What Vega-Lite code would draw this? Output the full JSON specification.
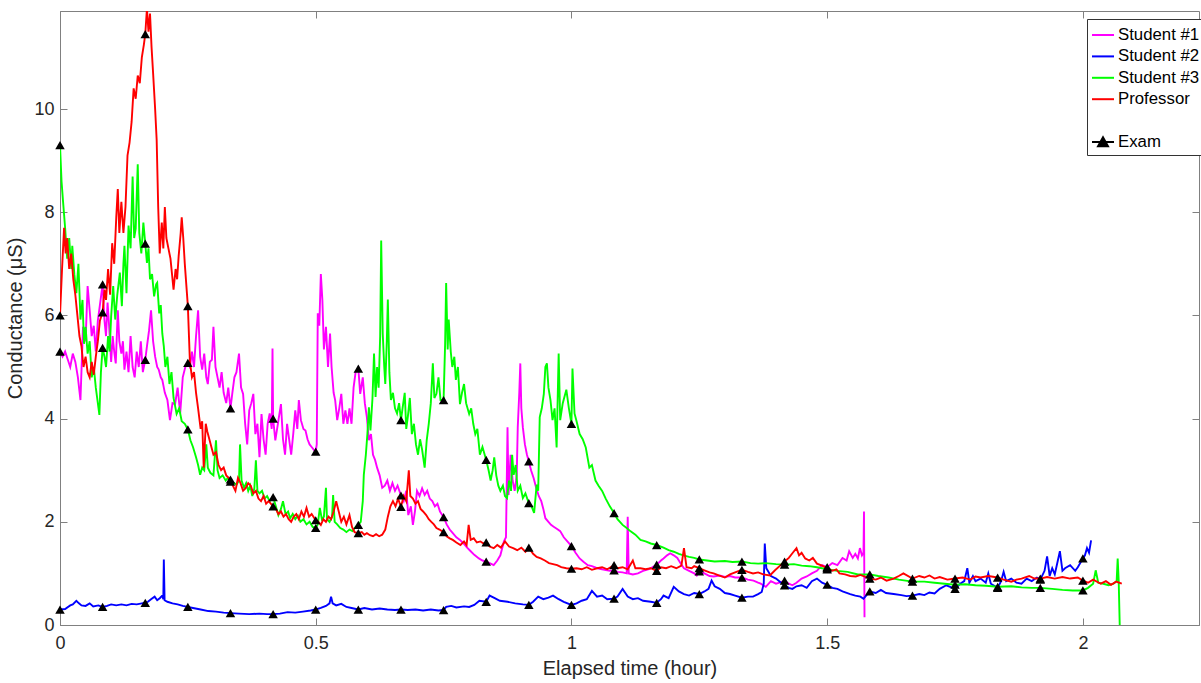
{
"$schema":"https://vega.github.io/schema/vega-lite/v6.json",
"width":1139,"height":614,
"autosize":{"type":"none"},
"padding":{"left":60,"top":11,"right":2,"bottom":58},
"background":"white",
"config":{"view":{"stroke":"#808080","strokeWidth":1},"font":"Liberation Sans","axis":{"grid":false,"labelFont":"Liberation Sans","titleFont":"Liberation Sans","labelColor":"#262626","titleColor":"#262626","domainColor":"#808080","tickColor":"#808080","titleFontWeight":"normal"}},
"data":{"values":[
{"s":"Student #1","t":0,"y":5.3,"e":1},{"s":"Student #1","t":0.005,"y":5.2},{"s":"Student #1","t":0.01,"y":5.3},{"s":"Student #1","t":0.015,"y":5.15},{"s":"Student #1","t":0.02,"y":5.0},{"s":"Student #1","t":0.025,"y":5.26},{"s":"Student #1","t":0.03,"y":5.1},{"s":"Student #1","t":0.035,"y":4.8},{"s":"Student #1","t":0.04,"y":4.36},{"s":"Student #1","t":0.045,"y":5.78},{"s":"Student #1","t":0.05,"y":5.5},{"s":"Student #1","t":0.054,"y":6.57},{"s":"Student #1","t":0.058,"y":6.1},{"s":"Student #1","t":0.062,"y":5.6},{"s":"Student #1","t":0.066,"y":5.8},{"s":"Student #1","t":0.07,"y":5.3},{"s":"Student #1","t":0.074,"y":5.9},{"s":"Student #1","t":0.078,"y":6.2},{"s":"Student #1","t":0.0833,"y":6.6,"e":1},{"s":"Student #1","t":0.087,"y":5.9},{"s":"Student #1","t":0.09,"y":5.6},{"s":"Student #1","t":0.093,"y":6.25},{"s":"Student #1","t":0.096,"y":5.8},{"s":"Student #1","t":0.1,"y":5.1},{"s":"Student #1","t":0.103,"y":5.6},{"s":"Student #1","t":0.106,"y":5.3},{"s":"Student #1","t":0.109,"y":5.07},{"s":"Student #1","t":0.113,"y":6.1},{"s":"Student #1","t":0.116,"y":5.5},{"s":"Student #1","t":0.12,"y":5.26},{"s":"Student #1","t":0.123,"y":5.5},{"s":"Student #1","t":0.126,"y":4.95},{"s":"Student #1","t":0.13,"y":5.3},{"s":"Student #1","t":0.134,"y":4.9},{"s":"Student #1","t":0.138,"y":5.6},{"s":"Student #1","t":0.142,"y":5.0},{"s":"Student #1","t":0.146,"y":4.8},{"s":"Student #1","t":0.15,"y":5.3},{"s":"Student #1","t":0.154,"y":5.0},{"s":"Student #1","t":0.158,"y":5.5},{"s":"Student #1","t":0.162,"y":4.9},{"s":"Student #1","t":0.1667,"y":5.14,"e":1},{"s":"Student #1","t":0.17,"y":5.4},{"s":"Student #1","t":0.174,"y":5.7},{"s":"Student #1","t":0.178,"y":6.1},{"s":"Student #1","t":0.182,"y":5.5},{"s":"Student #1","t":0.186,"y":5.2},{"s":"Student #1","t":0.19,"y":5.0},{"s":"Student #1","t":0.193,"y":4.95},{"s":"Student #1","t":0.197,"y":4.8},{"s":"Student #1","t":0.2,"y":4.75},{"s":"Student #1","t":0.205,"y":4.5},{"s":"Student #1","t":0.21,"y":4.36},{"s":"Student #1","t":0.215,"y":3.97},{"s":"Student #1","t":0.22,"y":4.3},{"s":"Student #1","t":0.225,"y":4.28},{"s":"Student #1","t":0.23,"y":4.6},{"s":"Student #1","t":0.235,"y":4.1},{"s":"Student #1","t":0.24,"y":4.8},{"s":"Student #1","t":0.245,"y":5.0},{"s":"Student #1","t":0.25,"y":5.08,"e":1},{"s":"Student #1","t":0.254,"y":5.0},{"s":"Student #1","t":0.258,"y":5.3},{"s":"Student #1","t":0.262,"y":5.0},{"s":"Student #1","t":0.266,"y":5.6},{"s":"Student #1","t":0.27,"y":6.1},{"s":"Student #1","t":0.274,"y":5.2},{"s":"Student #1","t":0.278,"y":4.95},{"s":"Student #1","t":0.282,"y":5.26},{"s":"Student #1","t":0.286,"y":4.8},{"s":"Student #1","t":0.289,"y":4.67},{"s":"Student #1","t":0.293,"y":5.1},{"s":"Student #1","t":0.297,"y":5.14},{"s":"Student #1","t":0.3,"y":5.78},{"s":"Student #1","t":0.304,"y":5.0},{"s":"Student #1","t":0.308,"y":4.8},{"s":"Student #1","t":0.312,"y":4.6},{"s":"Student #1","t":0.316,"y":4.9},{"s":"Student #1","t":0.32,"y":4.5},{"s":"Student #1","t":0.325,"y":4.3},{"s":"Student #1","t":0.329,"y":4.6},{"s":"Student #1","t":0.3333,"y":4.2,"e":1},{"s":"Student #1","t":0.337,"y":4.5},{"s":"Student #1","t":0.341,"y":4.8},{"s":"Student #1","t":0.345,"y":4.9},{"s":"Student #1","t":0.35,"y":5.26},{"s":"Student #1","t":0.354,"y":4.6},{"s":"Student #1","t":0.358,"y":4.48},{"s":"Student #1","t":0.362,"y":3.9},{"s":"Student #1","t":0.366,"y":3.5},{"s":"Student #1","t":0.37,"y":4.16},{"s":"Student #1","t":0.374,"y":4.3},{"s":"Student #1","t":0.378,"y":4.48},{"s":"Student #1","t":0.382,"y":3.7},{"s":"Student #1","t":0.386,"y":3.9},{"s":"Student #1","t":0.39,"y":3.25},{"s":"Student #1","t":0.394,"y":4.09},{"s":"Student #1","t":0.398,"y":3.6},{"s":"Student #1","t":0.402,"y":3.3},{"s":"Student #1","t":0.406,"y":3.9},{"s":"Student #1","t":0.41,"y":4.1},{"s":"Student #1","t":0.414,"y":3.8},{"s":"Student #1","t":0.4155,"y":5.36},{"s":"Student #1","t":0.4167,"y":4.0,"e":1},{"s":"Student #1","t":0.421,"y":3.58},{"s":"Student #1","t":0.426,"y":3.9},{"s":"Student #1","t":0.432,"y":4.28},{"s":"Student #1","t":0.436,"y":3.6},{"s":"Student #1","t":0.44,"y":3.3},{"s":"Student #1","t":0.444,"y":3.9},{"s":"Student #1","t":0.448,"y":3.6},{"s":"Student #1","t":0.452,"y":3.3},{"s":"Student #1","t":0.456,"y":3.7},{"s":"Student #1","t":0.46,"y":4.16},{"s":"Student #1","t":0.464,"y":3.8},{"s":"Student #1","t":0.467,"y":4.36},{"s":"Student #1","t":0.471,"y":3.97},{"s":"Student #1","t":0.476,"y":3.8},{"s":"Student #1","t":0.48,"y":3.77},{"s":"Student #1","t":0.484,"y":3.6},{"s":"Student #1","t":0.488,"y":3.5},{"s":"Student #1","t":0.492,"y":3.45},{"s":"Student #1","t":0.496,"y":3.4},{"s":"Student #1","t":0.5,"y":3.36,"e":1},{"s":"Student #1","t":0.502,"y":3.5},{"s":"Student #1","t":0.504,"y":6.04},{"s":"Student #1","t":0.507,"y":5.8},{"s":"Student #1","t":0.51,"y":6.8},{"s":"Student #1","t":0.513,"y":6.3},{"s":"Student #1","t":0.516,"y":5.34},{"s":"Student #1","t":0.52,"y":5.78},{"s":"Student #1","t":0.524,"y":5.0},{"s":"Student #1","t":0.528,"y":5.65},{"s":"Student #1","t":0.531,"y":5.0},{"s":"Student #1","t":0.535,"y":4.5},{"s":"Student #1","t":0.538,"y":4.36},{"s":"Student #1","t":0.542,"y":3.97},{"s":"Student #1","t":0.546,"y":4.2},{"s":"Student #1","t":0.55,"y":4.48},{"s":"Student #1","t":0.554,"y":3.9},{"s":"Student #1","t":0.558,"y":4.16},{"s":"Student #1","t":0.562,"y":3.9},{"s":"Student #1","t":0.566,"y":4.2},{"s":"Student #1","t":0.57,"y":3.9},{"s":"Student #1","t":0.574,"y":4.6},{"s":"Student #1","t":0.578,"y":4.9},{"s":"Student #1","t":0.5833,"y":4.97,"e":1},{"s":"Student #1","t":0.587,"y":4.48},{"s":"Student #1","t":0.592,"y":4.8},{"s":"Student #1","t":0.596,"y":4.3},{"s":"Student #1","t":0.6,"y":4.03},{"s":"Student #1","t":0.604,"y":3.58},{"s":"Student #1","t":0.608,"y":3.7},{"s":"Student #1","t":0.612,"y":3.3},{"s":"Student #1","t":0.616,"y":3.2},{"s":"Student #1","t":0.62,"y":3.05},{"s":"Student #1","t":0.625,"y":2.9},{"s":"Student #1","t":0.63,"y":2.66},{"s":"Student #1","t":0.635,"y":2.7},{"s":"Student #1","t":0.64,"y":2.8},{"s":"Student #1","t":0.645,"y":2.6},{"s":"Student #1","t":0.65,"y":2.75},{"s":"Student #1","t":0.655,"y":2.6},{"s":"Student #1","t":0.66,"y":2.7},{"s":"Student #1","t":0.6667,"y":2.51,"e":1},{"s":"Student #1","t":0.672,"y":2.4},{"s":"Student #1","t":0.677,"y":2.6},{"s":"Student #1","t":0.681,"y":2.13},{"s":"Student #1","t":0.686,"y":2.3},{"s":"Student #1","t":0.69,"y":1.94},{"s":"Student #1","t":0.694,"y":2.2},{"s":"Student #1","t":0.698,"y":2.6},{"s":"Student #1","t":0.703,"y":2.5},{"s":"Student #1","t":0.708,"y":2.65},{"s":"Student #1","t":0.713,"y":2.52},{"s":"Student #1","t":0.718,"y":2.6},{"s":"Student #1","t":0.723,"y":2.45},{"s":"Student #1","t":0.728,"y":2.4},{"s":"Student #1","t":0.733,"y":2.3},{"s":"Student #1","t":0.738,"y":2.35},{"s":"Student #1","t":0.743,"y":2.2},{"s":"Student #1","t":0.75,"y":2.09,"e":1},{"s":"Student #1","t":0.756,"y":1.95},{"s":"Student #1","t":0.762,"y":1.85},{"s":"Student #1","t":0.768,"y":1.78},{"s":"Student #1","t":0.775,"y":1.7},{"s":"Student #1","t":0.782,"y":1.65},{"s":"Student #1","t":0.789,"y":1.58},{"s":"Student #1","t":0.796,"y":1.5},{"s":"Student #1","t":0.803,"y":1.43},{"s":"Student #1","t":0.81,"y":1.36},{"s":"Student #1","t":0.819,"y":1.29},{"s":"Student #1","t":0.826,"y":1.25},{"s":"Student #1","t":0.8333,"y":1.23,"e":1},{"s":"Student #1","t":0.84,"y":1.2},{"s":"Student #1","t":0.848,"y":1.16},{"s":"Student #1","t":0.855,"y":1.25},{"s":"Student #1","t":0.861,"y":1.35},{"s":"Student #1","t":0.868,"y":1.62},{"s":"Student #1","t":0.872,"y":1.7},{"s":"Student #1","t":0.875,"y":3.83},{"s":"Student #1","t":0.877,"y":2.52},{"s":"Student #1","t":0.881,"y":3.3},{"s":"Student #1","t":0.885,"y":2.8},{"s":"Student #1","t":0.889,"y":2.6},{"s":"Student #1","t":0.893,"y":2.9},{"s":"Student #1","t":0.895,"y":3.83},{"s":"Student #1","t":0.898,"y":4.5},{"s":"Student #1","t":0.9,"y":5.07},{"s":"Student #1","t":0.902,"y":4.2},{"s":"Student #1","t":0.905,"y":3.83},{"s":"Student #1","t":0.909,"y":3.5},{"s":"Student #1","t":0.913,"y":3.3},{"s":"Student #1","t":0.9167,"y":3.17,"e":1},{"s":"Student #1","t":0.921,"y":3.0},{"s":"Student #1","t":0.926,"y":2.85},{"s":"Student #1","t":0.931,"y":2.66},{"s":"Student #1","t":0.936,"y":2.5},{"s":"Student #1","t":0.941,"y":2.4},{"s":"Student #1","t":0.945,"y":2.25},{"s":"Student #1","t":0.949,"y":2.07},{"s":"Student #1","t":0.955,"y":2.0},{"s":"Student #1","t":0.96,"y":1.94},{"s":"Student #1","t":0.966,"y":1.9},{"s":"Student #1","t":0.972,"y":1.86},{"s":"Student #1","t":0.978,"y":1.82},{"s":"Student #1","t":0.985,"y":1.7},{"s":"Student #1","t":0.992,"y":1.62},{"s":"Student #1","t":1,"y":1.53,"e":1},{"s":"Student #1","t":1.008,"y":1.4},{"s":"Student #1","t":1.016,"y":1.29},{"s":"Student #1","t":1.024,"y":1.22},{"s":"Student #1","t":1.032,"y":1.16},{"s":"Student #1","t":1.04,"y":1.14},{"s":"Student #1","t":1.048,"y":1.11},{"s":"Student #1","t":1.055,"y":1.09},{"s":"Student #1","t":1.065,"y":1.07},{"s":"Student #1","t":1.075,"y":1.05},{"s":"Student #1","t":1.0833,"y":1.06,"e":1},{"s":"Student #1","t":1.09,"y":1.03},{"s":"Student #1","t":1.1,"y":1.02},{"s":"Student #1","t":1.108,"y":1.0},{"s":"Student #1","t":1.11,"y":2.1},{"s":"Student #1","t":1.112,"y":1.0},{"s":"Student #1","t":1.12,"y":0.98},{"s":"Student #1","t":1.13,"y":1.0},{"s":"Student #1","t":1.14,"y":1.05},{"s":"Student #1","t":1.15,"y":1.08},{"s":"Student #1","t":1.155,"y":1.1},{"s":"Student #1","t":1.1667,"y":1.17,"e":1},{"s":"Student #1","t":1.175,"y":1.25},{"s":"Student #1","t":1.18,"y":1.29},{"s":"Student #1","t":1.187,"y":1.35},{"s":"Student #1","t":1.193,"y":1.39},{"s":"Student #1","t":1.2,"y":1.35},{"s":"Student #1","t":1.207,"y":1.3},{"s":"Student #1","t":1.213,"y":1.2},{"s":"Student #1","t":1.22,"y":1.1},{"s":"Student #1","t":1.23,"y":1.05},{"s":"Student #1","t":1.24,"y":1.0},{"s":"Student #1","t":1.245,"y":0.96},{"s":"Student #1","t":1.25,"y":1.04,"e":1},{"s":"Student #1","t":1.26,"y":1.0},{"s":"Student #1","t":1.27,"y":0.95},{"s":"Student #1","t":1.278,"y":0.94},{"s":"Student #1","t":1.29,"y":0.96},{"s":"Student #1","t":1.3,"y":0.93},{"s":"Student #1","t":1.31,"y":0.95},{"s":"Student #1","t":1.32,"y":0.92},{"s":"Student #1","t":1.3333,"y":0.92,"e":1},{"s":"Student #1","t":1.345,"y":0.88},{"s":"Student #1","t":1.356,"y":0.86},{"s":"Student #1","t":1.365,"y":0.82},{"s":"Student #1","t":1.37,"y":0.8},{"s":"Student #1","t":1.38,"y":0.74},{"s":"Student #1","t":1.39,"y":0.85},{"s":"Student #1","t":1.4,"y":0.8},{"s":"Student #1","t":1.41,"y":0.83},{"s":"Student #1","t":1.4167,"y":0.86,"e":1},{"s":"Student #1","t":1.425,"y":0.8},{"s":"Student #1","t":1.432,"y":0.77},{"s":"Student #1","t":1.44,"y":0.82},{"s":"Student #1","t":1.45,"y":0.9},{"s":"Student #1","t":1.46,"y":0.94},{"s":"Student #1","t":1.47,"y":1.0},{"s":"Student #1","t":1.48,"y":1.05},{"s":"Student #1","t":1.49,"y":1.16},{"s":"Student #1","t":1.5,"y":1.12,"e":1},{"s":"Student #1","t":1.51,"y":1.2},{"s":"Student #1","t":1.52,"y":1.16},{"s":"Student #1","t":1.53,"y":1.3},{"s":"Student #1","t":1.538,"y":1.25},{"s":"Student #1","t":1.543,"y":1.43},{"s":"Student #1","t":1.55,"y":1.3},{"s":"Student #1","t":1.555,"y":1.38},{"s":"Student #1","t":1.56,"y":1.29},{"s":"Student #1","t":1.564,"y":1.49},{"s":"Student #1","t":1.568,"y":1.35},{"s":"Student #1","t":1.571,"y":1.4},{"s":"Student #1","t":1.572,"y":2.2},{"s":"Student #1","t":1.573,"y":0.15},
{"s":"Student #2","t":0,"y":0.3,"e":1},{"s":"Student #2","t":0.01,"y":0.31},{"s":"Student #2","t":0.02,"y":0.38},{"s":"Student #2","t":0.025,"y":0.4},{"s":"Student #2","t":0.032,"y":0.47},{"s":"Student #2","t":0.037,"y":0.42},{"s":"Student #2","t":0.042,"y":0.38},{"s":"Student #2","t":0.05,"y":0.37},{"s":"Student #2","t":0.058,"y":0.42},{"s":"Student #2","t":0.065,"y":0.36},{"s":"Student #2","t":0.075,"y":0.38},{"s":"Student #2","t":0.0833,"y":0.35,"e":1},{"s":"Student #2","t":0.092,"y":0.37},{"s":"Student #2","t":0.1,"y":0.4},{"s":"Student #2","t":0.11,"y":0.38},{"s":"Student #2","t":0.12,"y":0.4},{"s":"Student #2","t":0.13,"y":0.38},{"s":"Student #2","t":0.14,"y":0.41},{"s":"Student #2","t":0.15,"y":0.4},{"s":"Student #2","t":0.16,"y":0.42},{"s":"Student #2","t":0.1667,"y":0.43,"e":1},{"s":"Student #2","t":0.172,"y":0.45},{"s":"Student #2","t":0.178,"y":0.5},{"s":"Student #2","t":0.185,"y":0.55},{"s":"Student #2","t":0.19,"y":0.48},{"s":"Student #2","t":0.195,"y":0.52},{"s":"Student #2","t":0.2,"y":0.57},{"s":"Student #2","t":0.202,"y":0.5},{"s":"Student #2","t":0.203,"y":1.27},{"s":"Student #2","t":0.2045,"y":0.48},{"s":"Student #2","t":0.21,"y":0.45},{"s":"Student #2","t":0.22,"y":0.42},{"s":"Student #2","t":0.23,"y":0.4},{"s":"Student #2","t":0.24,"y":0.37},{"s":"Student #2","t":0.25,"y":0.35,"e":1},{"s":"Student #2","t":0.26,"y":0.33},{"s":"Student #2","t":0.275,"y":0.3},{"s":"Student #2","t":0.29,"y":0.27},{"s":"Student #2","t":0.305,"y":0.26},{"s":"Student #2","t":0.32,"y":0.24},{"s":"Student #2","t":0.3333,"y":0.23,"e":1},{"s":"Student #2","t":0.35,"y":0.22},{"s":"Student #2","t":0.37,"y":0.21},{"s":"Student #2","t":0.39,"y":0.22},{"s":"Student #2","t":0.405,"y":0.21},{"s":"Student #2","t":0.4167,"y":0.21,"e":1},{"s":"Student #2","t":0.43,"y":0.22},{"s":"Student #2","t":0.445,"y":0.25},{"s":"Student #2","t":0.46,"y":0.24},{"s":"Student #2","t":0.475,"y":0.26},{"s":"Student #2","t":0.49,"y":0.28},{"s":"Student #2","t":0.5,"y":0.3,"e":1},{"s":"Student #2","t":0.51,"y":0.33},{"s":"Student #2","t":0.52,"y":0.37},{"s":"Student #2","t":0.527,"y":0.42},{"s":"Student #2","t":0.53,"y":0.55},{"s":"Student #2","t":0.533,"y":0.42},{"s":"Student #2","t":0.54,"y":0.38},{"s":"Student #2","t":0.55,"y":0.41},{"s":"Student #2","t":0.56,"y":0.35},{"s":"Student #2","t":0.57,"y":0.33},{"s":"Student #2","t":0.5833,"y":0.3,"e":1},{"s":"Student #2","t":0.595,"y":0.33},{"s":"Student #2","t":0.61,"y":0.3},{"s":"Student #2","t":0.625,"y":0.32},{"s":"Student #2","t":0.64,"y":0.3},{"s":"Student #2","t":0.655,"y":0.29},{"s":"Student #2","t":0.6667,"y":0.3,"e":1},{"s":"Student #2","t":0.68,"y":0.29},{"s":"Student #2","t":0.695,"y":0.3},{"s":"Student #2","t":0.71,"y":0.28},{"s":"Student #2","t":0.725,"y":0.3},{"s":"Student #2","t":0.74,"y":0.28},{"s":"Student #2","t":0.75,"y":0.29,"e":1},{"s":"Student #2","t":0.755,"y":0.35},{"s":"Student #2","t":0.765,"y":0.37},{"s":"Student #2","t":0.775,"y":0.34},{"s":"Student #2","t":0.79,"y":0.36},{"s":"Student #2","t":0.8,"y":0.35},{"s":"Student #2","t":0.81,"y":0.39},{"s":"Student #2","t":0.82,"y":0.47},{"s":"Student #2","t":0.8333,"y":0.45,"e":1},{"s":"Student #2","t":0.84,"y":0.57},{"s":"Student #2","t":0.85,"y":0.52},{"s":"Student #2","t":0.86,"y":0.47},{"s":"Student #2","t":0.875,"y":0.45},{"s":"Student #2","t":0.89,"y":0.42},{"s":"Student #2","t":0.905,"y":0.4},{"s":"Student #2","t":0.9167,"y":0.39,"e":1},{"s":"Student #2","t":0.925,"y":0.45},{"s":"Student #2","t":0.935,"y":0.55},{"s":"Student #2","t":0.945,"y":0.5},{"s":"Student #2","t":0.955,"y":0.53},{"s":"Student #2","t":0.964,"y":0.57},{"s":"Student #2","t":0.975,"y":0.5},{"s":"Student #2","t":0.985,"y":0.45},{"s":"Student #2","t":1,"y":0.39,"e":1},{"s":"Student #2","t":1.01,"y":0.42},{"s":"Student #2","t":1.02,"y":0.47},{"s":"Student #2","t":1.03,"y":0.5},{"s":"Student #2","t":1.04,"y":0.66},{"s":"Student #2","t":1.05,"y":0.55},{"s":"Student #2","t":1.06,"y":0.57},{"s":"Student #2","t":1.07,"y":0.5},{"s":"Student #2","t":1.0833,"y":0.51,"e":1},{"s":"Student #2","t":1.09,"y":0.55},{"s":"Student #2","t":1.1,"y":0.7},{"s":"Student #2","t":1.11,"y":0.55},{"s":"Student #2","t":1.12,"y":0.5},{"s":"Student #2","t":1.13,"y":0.52},{"s":"Student #2","t":1.14,"y":0.47},{"s":"Student #2","t":1.155,"y":0.45},{"s":"Student #2","t":1.1667,"y":0.43,"e":1},{"s":"Student #2","t":1.175,"y":0.5},{"s":"Student #2","t":1.18,"y":0.57},{"s":"Student #2","t":1.19,"y":0.52},{"s":"Student #2","t":1.2,"y":0.74},{"s":"Student #2","t":1.21,"y":0.65},{"s":"Student #2","t":1.22,"y":0.6},{"s":"Student #2","t":1.23,"y":0.57},{"s":"Student #2","t":1.24,"y":0.62},{"s":"Student #2","t":1.25,"y":0.6,"e":1},{"s":"Student #2","t":1.26,"y":0.65},{"s":"Student #2","t":1.268,"y":0.7},{"s":"Student #2","t":1.274,"y":0.86},{"s":"Student #2","t":1.28,"y":0.75},{"s":"Student #2","t":1.29,"y":0.7},{"s":"Student #2","t":1.3,"y":0.62},{"s":"Student #2","t":1.31,"y":0.6},{"s":"Student #2","t":1.32,"y":0.57},{"s":"Student #2","t":1.3333,"y":0.53,"e":1},{"s":"Student #2","t":1.345,"y":0.55},{"s":"Student #2","t":1.355,"y":0.55},{"s":"Student #2","t":1.365,"y":0.6},{"s":"Student #2","t":1.372,"y":0.64},{"s":"Student #2","t":1.376,"y":0.8},{"s":"Student #2","t":1.378,"y":1.58},{"s":"Student #2","t":1.381,"y":1.1},{"s":"Student #2","t":1.39,"y":0.95},{"s":"Student #2","t":1.4,"y":0.9},{"s":"Student #2","t":1.41,"y":0.82},{"s":"Student #2","t":1.4167,"y":0.77,"e":1},{"s":"Student #2","t":1.425,"y":0.72},{"s":"Student #2","t":1.432,"y":0.7},{"s":"Student #2","t":1.44,"y":0.75},{"s":"Student #2","t":1.45,"y":0.77},{"s":"Student #2","t":1.46,"y":0.72},{"s":"Student #2","t":1.47,"y":0.85},{"s":"Student #2","t":1.48,"y":0.9},{"s":"Student #2","t":1.49,"y":0.82},{"s":"Student #2","t":1.5,"y":0.78,"e":1},{"s":"Student #2","t":1.51,"y":0.72},{"s":"Student #2","t":1.52,"y":0.7},{"s":"Student #2","t":1.53,"y":0.65},{"s":"Student #2","t":1.545,"y":0.6},{"s":"Student #2","t":1.555,"y":0.57},{"s":"Student #2","t":1.565,"y":0.55},{"s":"Student #2","t":1.571,"y":0.51},{"s":"Student #2","t":1.5833,"y":0.65,"e":1},{"s":"Student #2","t":1.595,"y":0.62},{"s":"Student #2","t":1.605,"y":0.68},{"s":"Student #2","t":1.615,"y":0.62},{"s":"Student #2","t":1.63,"y":0.6},{"s":"Student #2","t":1.645,"y":0.58},{"s":"Student #2","t":1.655,"y":0.56},{"s":"Student #2","t":1.6667,"y":0.57,"e":1},{"s":"Student #2","t":1.68,"y":0.6},{"s":"Student #2","t":1.69,"y":0.58},{"s":"Student #2","t":1.7,"y":0.63},{"s":"Student #2","t":1.71,"y":0.61},{"s":"Student #2","t":1.72,"y":0.7},{"s":"Student #2","t":1.733,"y":0.77},{"s":"Student #2","t":1.75,"y":0.7,"e":1},{"s":"Student #2","t":1.76,"y":0.8},{"s":"Student #2","t":1.768,"y":0.85},{"s":"Student #2","t":1.774,"y":1.1},{"s":"Student #2","t":1.778,"y":0.82},{"s":"Student #2","t":1.785,"y":0.95},{"s":"Student #2","t":1.79,"y":0.85},{"s":"Student #2","t":1.8,"y":0.9},{"s":"Student #2","t":1.81,"y":0.82},{"s":"Student #2","t":1.815,"y":1.0},{"s":"Student #2","t":1.82,"y":0.8},{"s":"Student #2","t":1.8333,"y":0.72,"e":1},{"s":"Student #2","t":1.84,"y":0.85},{"s":"Student #2","t":1.845,"y":1.03},{"s":"Student #2","t":1.85,"y":0.85},{"s":"Student #2","t":1.86,"y":0.9},{"s":"Student #2","t":1.87,"y":0.82},{"s":"Student #2","t":1.88,"y":0.8},{"s":"Student #2","t":1.89,"y":0.9},{"s":"Student #2","t":1.9,"y":0.85},{"s":"Student #2","t":1.91,"y":0.92},{"s":"Student #2","t":1.9167,"y":0.88,"e":1},{"s":"Student #2","t":1.925,"y":1.05},{"s":"Student #2","t":1.93,"y":1.33},{"s":"Student #2","t":1.935,"y":0.95},{"s":"Student #2","t":1.94,"y":1.1},{"s":"Student #2","t":1.945,"y":0.98},{"s":"Student #2","t":1.955,"y":1.43},{"s":"Student #2","t":1.96,"y":1.05},{"s":"Student #2","t":1.965,"y":1.1},{"s":"Student #2","t":1.975,"y":1.16},{"s":"Student #2","t":1.985,"y":1.05},{"s":"Student #2","t":1.99,"y":1.12},{"s":"Student #2","t":2,"y":1.29,"e":1},{"s":"Student #2","t":2.004,"y":1.35},{"s":"Student #2","t":2.008,"y":1.49},{"s":"Student #2","t":2.012,"y":1.4},{"s":"Student #2","t":2.016,"y":1.64},
{"s":"Student #3","t":0,"y":9.3,"e":1},{"s":"Student #3","t":0.003,"y":8.6},{"s":"Student #3","t":0.006,"y":8.2},{"s":"Student #3","t":0.01,"y":7.7},{"s":"Student #3","t":0.014,"y":7.1},{"s":"Student #3","t":0.018,"y":7.5},{"s":"Student #3","t":0.022,"y":6.9},{"s":"Student #3","t":0.024,"y":7.35},{"s":"Student #3","t":0.028,"y":6.8},{"s":"Student #3","t":0.032,"y":6.43},{"s":"Student #3","t":0.036,"y":7.0},{"s":"Student #3","t":0.04,"y":5.92},{"s":"Student #3","t":0.044,"y":6.3},{"s":"Student #3","t":0.047,"y":5.45},{"s":"Student #3","t":0.05,"y":5.78},{"s":"Student #3","t":0.054,"y":5.26},{"s":"Student #3","t":0.058,"y":5.5},{"s":"Student #3","t":0.062,"y":4.8},{"s":"Student #3","t":0.066,"y":5.0},{"s":"Student #3","t":0.07,"y":4.6},{"s":"Student #3","t":0.074,"y":4.3},{"s":"Student #3","t":0.077,"y":4.07},{"s":"Student #3","t":0.08,"y":4.9},{"s":"Student #3","t":0.0833,"y":5.37,"e":1},{"s":"Student #3","t":0.087,"y":5.2},{"s":"Student #3","t":0.09,"y":5.0},{"s":"Student #3","t":0.094,"y":5.6},{"s":"Student #3","t":0.097,"y":5.3},{"s":"Student #3","t":0.1,"y":5.98},{"s":"Student #3","t":0.104,"y":6.57},{"s":"Student #3","t":0.108,"y":5.92},{"s":"Student #3","t":0.112,"y":6.4},{"s":"Student #3","t":0.117,"y":6.83},{"s":"Student #3","t":0.121,"y":6.18},{"s":"Student #3","t":0.124,"y":7.0},{"s":"Student #3","t":0.126,"y":7.35},{"s":"Student #3","t":0.13,"y":6.43},{"s":"Student #3","t":0.134,"y":7.74},{"s":"Student #3","t":0.138,"y":7.3},{"s":"Student #3","t":0.142,"y":8.69},{"s":"Student #3","t":0.145,"y":7.5},{"s":"Student #3","t":0.148,"y":7.68},{"s":"Student #3","t":0.152,"y":8.93},{"s":"Student #3","t":0.155,"y":7.6},{"s":"Student #3","t":0.159,"y":7.2},{"s":"Student #3","t":0.163,"y":7.8},{"s":"Student #3","t":0.1667,"y":7.39,"e":1},{"s":"Student #3","t":0.17,"y":7.02},{"s":"Student #3","t":0.173,"y":7.3},{"s":"Student #3","t":0.176,"y":6.7},{"s":"Student #3","t":0.18,"y":6.8},{"s":"Student #3","t":0.184,"y":6.37},{"s":"Student #3","t":0.188,"y":6.6},{"s":"Student #3","t":0.19,"y":6.63},{"s":"Student #3","t":0.194,"y":6.04},{"s":"Student #3","t":0.197,"y":6.2},{"s":"Student #3","t":0.2,"y":5.65},{"s":"Student #3","t":0.203,"y":5.4},{"s":"Student #3","t":0.206,"y":5.0},{"s":"Student #3","t":0.21,"y":5.2},{"s":"Student #3","t":0.214,"y":4.67},{"s":"Student #3","t":0.218,"y":4.9},{"s":"Student #3","t":0.222,"y":4.4},{"s":"Student #3","t":0.228,"y":4.09},{"s":"Student #3","t":0.233,"y":4.2},{"s":"Student #3","t":0.238,"y":3.95},{"s":"Student #3","t":0.244,"y":3.9},{"s":"Student #3","t":0.25,"y":3.79,"e":1},{"s":"Student #3","t":0.255,"y":3.58},{"s":"Student #3","t":0.26,"y":3.45},{"s":"Student #3","t":0.266,"y":3.25},{"s":"Student #3","t":0.27,"y":3.1},{"s":"Student #3","t":0.274,"y":2.91},{"s":"Student #3","t":0.278,"y":3.05},{"s":"Student #3","t":0.282,"y":3.0},{"s":"Student #3","t":0.286,"y":3.5},{"s":"Student #3","t":0.289,"y":3.05},{"s":"Student #3","t":0.294,"y":2.95},{"s":"Student #3","t":0.3,"y":2.9},{"s":"Student #3","t":0.305,"y":3.58},{"s":"Student #3","t":0.308,"y":3.0},{"s":"Student #3","t":0.312,"y":2.85},{"s":"Student #3","t":0.318,"y":2.9},{"s":"Student #3","t":0.324,"y":2.8},{"s":"Student #3","t":0.328,"y":2.85},{"s":"Student #3","t":0.3333,"y":2.78,"e":1},{"s":"Student #3","t":0.34,"y":2.75},{"s":"Student #3","t":0.345,"y":2.72},{"s":"Student #3","t":0.35,"y":2.8},{"s":"Student #3","t":0.352,"y":3.5},{"s":"Student #3","t":0.355,"y":2.8},{"s":"Student #3","t":0.36,"y":2.66},{"s":"Student #3","t":0.364,"y":2.75},{"s":"Student #3","t":0.368,"y":2.6},{"s":"Student #3","t":0.372,"y":2.7},{"s":"Student #3","t":0.376,"y":2.5},{"s":"Student #3","t":0.38,"y":2.65},{"s":"Student #3","t":0.383,"y":3.19},{"s":"Student #3","t":0.386,"y":2.6},{"s":"Student #3","t":0.39,"y":2.55},{"s":"Student #3","t":0.395,"y":2.6},{"s":"Student #3","t":0.4,"y":2.45},{"s":"Student #3","t":0.405,"y":2.5},{"s":"Student #3","t":0.41,"y":2.4},{"s":"Student #3","t":0.4167,"y":2.48,"e":1},{"s":"Student #3","t":0.422,"y":2.3},{"s":"Student #3","t":0.427,"y":2.13},{"s":"Student #3","t":0.432,"y":2.25},{"s":"Student #3","t":0.436,"y":2.4},{"s":"Student #3","t":0.441,"y":2.15},{"s":"Student #3","t":0.446,"y":2.2},{"s":"Student #3","t":0.45,"y":2.07},{"s":"Student #3","t":0.455,"y":2.15},{"s":"Student #3","t":0.46,"y":2.05},{"s":"Student #3","t":0.465,"y":2.12},{"s":"Student #3","t":0.47,"y":2.0},{"s":"Student #3","t":0.476,"y":2.05},{"s":"Student #3","t":0.482,"y":1.95},{"s":"Student #3","t":0.488,"y":2.0},{"s":"Student #3","t":0.494,"y":1.9},{"s":"Student #3","t":0.5,"y":1.88,"e":1},{"s":"Student #3","t":0.504,"y":1.95},{"s":"Student #3","t":0.508,"y":2.27},{"s":"Student #3","t":0.512,"y":2.05},{"s":"Student #3","t":0.516,"y":2.1},{"s":"Student #3","t":0.52,"y":2.66},{"s":"Student #3","t":0.522,"y":2.05},{"s":"Student #3","t":0.527,"y":2.0},{"s":"Student #3","t":0.532,"y":2.1},{"s":"Student #3","t":0.534,"y":2.52},{"s":"Student #3","t":0.537,"y":2.0},{"s":"Student #3","t":0.542,"y":1.95},{"s":"Student #3","t":0.548,"y":1.88},{"s":"Student #3","t":0.554,"y":1.85},{"s":"Student #3","t":0.56,"y":1.8},{"s":"Student #3","t":0.566,"y":1.85},{"s":"Student #3","t":0.572,"y":1.82},{"s":"Student #3","t":0.578,"y":1.9},{"s":"Student #3","t":0.5833,"y":1.94,"e":1},{"s":"Student #3","t":0.588,"y":2.0},{"s":"Student #3","t":0.592,"y":2.4},{"s":"Student #3","t":0.594,"y":2.91},{"s":"Student #3","t":0.598,"y":3.3},{"s":"Student #3","t":0.601,"y":3.7},{"s":"Student #3","t":0.604,"y":4.22},{"s":"Student #3","t":0.607,"y":3.77},{"s":"Student #3","t":0.611,"y":4.4},{"s":"Student #3","t":0.614,"y":5.26},{"s":"Student #3","t":0.617,"y":4.42},{"s":"Student #3","t":0.62,"y":5.0},{"s":"Student #3","t":0.623,"y":4.6},{"s":"Student #3","t":0.626,"y":5.6},{"s":"Student #3","t":0.628,"y":7.45},{"s":"Student #3","t":0.631,"y":5.65},{"s":"Student #3","t":0.634,"y":5.0},{"s":"Student #3","t":0.636,"y":4.67},{"s":"Student #3","t":0.639,"y":5.5},{"s":"Student #3","t":0.641,"y":6.31},{"s":"Student #3","t":0.644,"y":4.9},{"s":"Student #3","t":0.647,"y":4.36},{"s":"Student #3","t":0.651,"y":4.5},{"s":"Student #3","t":0.655,"y":4.2},{"s":"Student #3","t":0.659,"y":4.1},{"s":"Student #3","t":0.663,"y":4.3},{"s":"Student #3","t":0.6667,"y":3.97,"e":1},{"s":"Student #3","t":0.67,"y":4.22},{"s":"Student #3","t":0.674,"y":4.5},{"s":"Student #3","t":0.677,"y":3.8},{"s":"Student #3","t":0.68,"y":4.03},{"s":"Student #3","t":0.684,"y":4.4},{"s":"Student #3","t":0.688,"y":3.7},{"s":"Student #3","t":0.692,"y":3.9},{"s":"Student #3","t":0.696,"y":3.5},{"s":"Student #3","t":0.7,"y":3.3},{"s":"Student #3","t":0.704,"y":3.6},{"s":"Student #3","t":0.708,"y":3.4},{"s":"Student #3","t":0.713,"y":3.05},{"s":"Student #3","t":0.717,"y":3.58},{"s":"Student #3","t":0.721,"y":3.9},{"s":"Student #3","t":0.725,"y":4.3},{"s":"Student #3","t":0.729,"y":5.07},{"s":"Student #3","t":0.732,"y":4.4},{"s":"Student #3","t":0.736,"y":4.48},{"s":"Student #3","t":0.74,"y":4.8},{"s":"Student #3","t":0.744,"y":4.36},{"s":"Student #3","t":0.75,"y":4.36,"e":1},{"s":"Student #3","t":0.753,"y":5.45},{"s":"Student #3","t":0.755,"y":6.63},{"s":"Student #3","t":0.758,"y":5.34},{"s":"Student #3","t":0.76,"y":5.92},{"s":"Student #3","t":0.764,"y":5.3},{"s":"Student #3","t":0.767,"y":5.0},{"s":"Student #3","t":0.771,"y":5.2},{"s":"Student #3","t":0.774,"y":4.75},{"s":"Student #3","t":0.778,"y":5.0},{"s":"Student #3","t":0.782,"y":4.28},{"s":"Student #3","t":0.786,"y":4.5},{"s":"Student #3","t":0.79,"y":4.67},{"s":"Student #3","t":0.794,"y":4.3},{"s":"Student #3","t":0.8,"y":4.09},{"s":"Student #3","t":0.804,"y":4.2},{"s":"Student #3","t":0.808,"y":3.9},{"s":"Student #3","t":0.812,"y":3.7},{"s":"Student #3","t":0.816,"y":3.8},{"s":"Student #3","t":0.821,"y":3.3},{"s":"Student #3","t":0.826,"y":3.45},{"s":"Student #3","t":0.8333,"y":3.2,"e":1},{"s":"Student #3","t":0.838,"y":3.0},{"s":"Student #3","t":0.842,"y":2.8},{"s":"Student #3","t":0.846,"y":3.0},{"s":"Student #3","t":0.849,"y":3.25},{"s":"Student #3","t":0.853,"y":2.9},{"s":"Student #3","t":0.857,"y":2.7},{"s":"Student #3","t":0.861,"y":2.6},{"s":"Student #3","t":0.866,"y":2.7},{"s":"Student #3","t":0.87,"y":2.5},{"s":"Student #3","t":0.874,"y":2.46},{"s":"Student #3","t":0.878,"y":2.8},{"s":"Student #3","t":0.882,"y":2.6},{"s":"Student #3","t":0.884,"y":3.3},{"s":"Student #3","t":0.887,"y":2.91},{"s":"Student #3","t":0.891,"y":3.1},{"s":"Student #3","t":0.895,"y":2.6},{"s":"Student #3","t":0.9,"y":2.7},{"s":"Student #3","t":0.905,"y":2.46},{"s":"Student #3","t":0.91,"y":2.55},{"s":"Student #3","t":0.9167,"y":2.36,"e":1},{"s":"Student #3","t":0.922,"y":2.3},{"s":"Student #3","t":0.927,"y":2.17},{"s":"Student #3","t":0.932,"y":2.72},{"s":"Student #3","t":0.935,"y":2.6},{"s":"Student #3","t":0.938,"y":4.03},{"s":"Student #3","t":0.942,"y":4.2},{"s":"Student #3","t":0.946,"y":4.48},{"s":"Student #3","t":0.949,"y":5.0},{"s":"Student #3","t":0.952,"y":5.07},{"s":"Student #3","t":0.955,"y":4.6},{"s":"Student #3","t":0.959,"y":4.36},{"s":"Student #3","t":0.963,"y":3.97},{"s":"Student #3","t":0.967,"y":4.2},{"s":"Student #3","t":0.971,"y":3.44},{"s":"Student #3","t":0.975,"y":5.26},{"s":"Student #3","t":0.978,"y":3.97},{"s":"Student #3","t":0.983,"y":4.3},{"s":"Student #3","t":0.99,"y":4.56},{"s":"Student #3","t":0.995,"y":4.2},{"s":"Student #3","t":1,"y":3.9,"e":1},{"s":"Student #3","t":1.002,"y":4.97},{"s":"Student #3","t":1.006,"y":4.1},{"s":"Student #3","t":1.01,"y":3.95},{"s":"Student #3","t":1.016,"y":3.7},{"s":"Student #3","t":1.022,"y":3.6},{"s":"Student #3","t":1.028,"y":3.44},{"s":"Student #3","t":1.035,"y":3.05},{"s":"Student #3","t":1.04,"y":3.1},{"s":"Student #3","t":1.047,"y":2.8},{"s":"Student #3","t":1.053,"y":2.7},{"s":"Student #3","t":1.06,"y":2.6},{"s":"Student #3","t":1.067,"y":2.45},{"s":"Student #3","t":1.075,"y":2.3},{"s":"Student #3","t":1.0833,"y":2.17,"e":1},{"s":"Student #3","t":1.09,"y":2.05},{"s":"Student #3","t":1.1,"y":1.94},{"s":"Student #3","t":1.108,"y":1.88},{"s":"Student #3","t":1.115,"y":1.82},{"s":"Student #3","t":1.125,"y":1.75},{"s":"Student #3","t":1.135,"y":1.65},{"s":"Student #3","t":1.145,"y":1.62},{"s":"Student #3","t":1.155,"y":1.58},{"s":"Student #3","t":1.1667,"y":1.55,"e":1},{"s":"Student #3","t":1.18,"y":1.5},{"s":"Student #3","t":1.19,"y":1.45},{"s":"Student #3","t":1.2,"y":1.42},{"s":"Student #3","t":1.21,"y":1.38},{"s":"Student #3","t":1.219,"y":1.35},{"s":"Student #3","t":1.23,"y":1.32},{"s":"Student #3","t":1.24,"y":1.3},{"s":"Student #3","t":1.25,"y":1.27,"e":1},{"s":"Student #3","t":1.265,"y":1.25},{"s":"Student #3","t":1.28,"y":1.23},{"s":"Student #3","t":1.3,"y":1.24},{"s":"Student #3","t":1.315,"y":1.22},{"s":"Student #3","t":1.3333,"y":1.23,"e":1},{"s":"Student #3","t":1.35,"y":1.2},{"s":"Student #3","t":1.365,"y":1.19},{"s":"Student #3","t":1.38,"y":1.2},{"s":"Student #3","t":1.4,"y":1.18},{"s":"Student #3","t":1.4167,"y":1.17,"e":1},{"s":"Student #3","t":1.435,"y":1.18},{"s":"Student #3","t":1.45,"y":1.15},{"s":"Student #3","t":1.465,"y":1.14},{"s":"Student #3","t":1.48,"y":1.12},{"s":"Student #3","t":1.5,"y":1.08,"e":1},{"s":"Student #3","t":1.52,"y":1.05},{"s":"Student #3","t":1.54,"y":1.03},{"s":"Student #3","t":1.56,"y":0.98},{"s":"Student #3","t":1.5833,"y":0.98,"e":1},{"s":"Student #3","t":1.6,"y":0.95},{"s":"Student #3","t":1.62,"y":0.92},{"s":"Student #3","t":1.64,"y":0.88},{"s":"Student #3","t":1.6667,"y":0.84,"e":1},{"s":"Student #3","t":1.69,"y":0.84},{"s":"Student #3","t":1.71,"y":0.82},{"s":"Student #3","t":1.73,"y":0.8},{"s":"Student #3","t":1.75,"y":0.78,"e":1},{"s":"Student #3","t":1.77,"y":0.79},{"s":"Student #3","t":1.79,"y":0.77},{"s":"Student #3","t":1.81,"y":0.76},{"s":"Student #3","t":1.8333,"y":0.74,"e":1},{"s":"Student #3","t":1.86,"y":0.75},{"s":"Student #3","t":1.88,"y":0.73},{"s":"Student #3","t":1.9,"y":0.72},{"s":"Student #3","t":1.9167,"y":0.72,"e":1},{"s":"Student #3","t":1.94,"y":0.7},{"s":"Student #3","t":1.96,"y":0.68},{"s":"Student #3","t":1.98,"y":0.67},{"s":"Student #3","t":2,"y":0.67,"e":1},{"s":"Student #3","t":2.01,"y":0.72},{"s":"Student #3","t":2.02,"y":0.8},{"s":"Student #3","t":2.025,"y":1.06},{"s":"Student #3","t":2.03,"y":0.82},{"s":"Student #3","t":2.04,"y":0.8},{"s":"Student #3","t":2.05,"y":0.77},{"s":"Student #3","t":2.06,"y":0.8},{"s":"Student #3","t":2.066,"y":0.85},{"s":"Student #3","t":2.068,"y":1.29},{"s":"Student #3","t":2.07,"y":0.85},{"s":"Student #3","t":2.072,"y":0.0},
{"s":"Professor","t":0,"y":6.0,"e":1},{"s":"Professor","t":0.004,"y":6.9},{"s":"Professor","t":0.008,"y":7.7},{"s":"Professor","t":0.011,"y":7.2},{"s":"Professor","t":0.014,"y":7.5},{"s":"Professor","t":0.018,"y":6.9},{"s":"Professor","t":0.022,"y":7.2},{"s":"Professor","t":0.026,"y":6.7},{"s":"Professor","t":0.03,"y":6.4},{"s":"Professor","t":0.034,"y":6.0},{"s":"Professor","t":0.038,"y":5.6},{"s":"Professor","t":0.042,"y":5.4},{"s":"Professor","t":0.046,"y":5.0},{"s":"Professor","t":0.05,"y":5.2},{"s":"Professor","t":0.054,"y":4.9},{"s":"Professor","t":0.058,"y":4.8},{"s":"Professor","t":0.062,"y":5.1},{"s":"Professor","t":0.066,"y":4.85},{"s":"Professor","t":0.07,"y":5.2},{"s":"Professor","t":0.074,"y":5.5},{"s":"Professor","t":0.078,"y":5.9},{"s":"Professor","t":0.0833,"y":6.06,"e":1},{"s":"Professor","t":0.087,"y":6.5},{"s":"Professor","t":0.09,"y":6.3},{"s":"Professor","t":0.094,"y":6.9},{"s":"Professor","t":0.098,"y":6.4},{"s":"Professor","t":0.102,"y":7.4},{"s":"Professor","t":0.106,"y":7.0},{"s":"Professor","t":0.11,"y":7.9},{"s":"Professor","t":0.113,"y":8.45},{"s":"Professor","t":0.116,"y":7.6},{"s":"Professor","t":0.12,"y":8.2},{"s":"Professor","t":0.124,"y":7.6},{"s":"Professor","t":0.128,"y":8.1},{"s":"Professor","t":0.132,"y":9.1},{"s":"Professor","t":0.136,"y":9.35},{"s":"Professor","t":0.14,"y":9.75},{"s":"Professor","t":0.144,"y":10.4},{"s":"Professor","t":0.148,"y":10.2},{"s":"Professor","t":0.152,"y":10.65},{"s":"Professor","t":0.156,"y":10.5},{"s":"Professor","t":0.16,"y":11.0},{"s":"Professor","t":0.164,"y":11.25},{"s":"Professor","t":0.1667,"y":11.45,"e":1},{"s":"Professor","t":0.17,"y":11.95},{"s":"Professor","t":0.173,"y":11.5},{"s":"Professor","t":0.176,"y":11.85},{"s":"Professor","t":0.179,"y":11.2},{"s":"Professor","t":0.182,"y":10.7},{"s":"Professor","t":0.186,"y":10.0},{"s":"Professor","t":0.189,"y":9.4},{"s":"Professor","t":0.192,"y":8.1},{"s":"Professor","t":0.195,"y":7.2},{"s":"Professor","t":0.199,"y":7.8},{"s":"Professor","t":0.202,"y":7.3},{"s":"Professor","t":0.205,"y":8.1},{"s":"Professor","t":0.208,"y":7.5},{"s":"Professor","t":0.212,"y":7.3},{"s":"Professor","t":0.216,"y":7.1},{"s":"Professor","t":0.219,"y":6.8},{"s":"Professor","t":0.222,"y":6.5},{"s":"Professor","t":0.226,"y":6.9},{"s":"Professor","t":0.229,"y":6.7},{"s":"Professor","t":0.232,"y":7.15},{"s":"Professor","t":0.236,"y":7.6},{"s":"Professor","t":0.238,"y":7.9},{"s":"Professor","t":0.241,"y":7.5},{"s":"Professor","t":0.244,"y":7.0},{"s":"Professor","t":0.25,"y":6.18,"e":1},{"s":"Professor","t":0.254,"y":5.1},{"s":"Professor","t":0.258,"y":4.8},{"s":"Professor","t":0.262,"y":4.9},{"s":"Professor","t":0.266,"y":4.5},{"s":"Professor","t":0.27,"y":4.2},{"s":"Professor","t":0.275,"y":3.8},{"s":"Professor","t":0.278,"y":3.95},{"s":"Professor","t":0.281,"y":3.05},{"s":"Professor","t":0.285,"y":3.9},{"s":"Professor","t":0.288,"y":3.75},{"s":"Professor","t":0.292,"y":3.6},{"s":"Professor","t":0.296,"y":3.45},{"s":"Professor","t":0.3,"y":3.3},{"s":"Professor","t":0.305,"y":3.35},{"s":"Professor","t":0.31,"y":3.1},{"s":"Professor","t":0.315,"y":3.0},{"s":"Professor","t":0.32,"y":3.05},{"s":"Professor","t":0.325,"y":2.9},{"s":"Professor","t":0.33,"y":2.85},{"s":"Professor","t":0.3333,"y":2.82,"e":1},{"s":"Professor","t":0.338,"y":2.7},{"s":"Professor","t":0.343,"y":2.6},{"s":"Professor","t":0.348,"y":2.85},{"s":"Professor","t":0.353,"y":2.75},{"s":"Professor","t":0.358,"y":2.6},{"s":"Professor","t":0.363,"y":2.65},{"s":"Professor","t":0.368,"y":2.75},{"s":"Professor","t":0.373,"y":2.7},{"s":"Professor","t":0.378,"y":2.55},{"s":"Professor","t":0.383,"y":2.6},{"s":"Professor","t":0.388,"y":2.45},{"s":"Professor","t":0.393,"y":2.4},{"s":"Professor","t":0.398,"y":2.5},{"s":"Professor","t":0.403,"y":2.35},{"s":"Professor","t":0.408,"y":2.4},{"s":"Professor","t":0.4167,"y":2.3,"e":1},{"s":"Professor","t":0.422,"y":2.25},{"s":"Professor","t":0.427,"y":2.15},{"s":"Professor","t":0.432,"y":2.2},{"s":"Professor","t":0.437,"y":2.1},{"s":"Professor","t":0.442,"y":2.15},{"s":"Professor","t":0.447,"y":2.05},{"s":"Professor","t":0.452,"y":2.0},{"s":"Professor","t":0.457,"y":2.1},{"s":"Professor","t":0.462,"y":2.15},{"s":"Professor","t":0.467,"y":2.05},{"s":"Professor","t":0.472,"y":2.2},{"s":"Professor","t":0.477,"y":2.1},{"s":"Professor","t":0.482,"y":2.27},{"s":"Professor","t":0.487,"y":2.1},{"s":"Professor","t":0.492,"y":2.15},{"s":"Professor","t":0.5,"y":2.03,"e":1},{"s":"Professor","t":0.505,"y":2.0},{"s":"Professor","t":0.51,"y":1.94},{"s":"Professor","t":0.515,"y":2.05},{"s":"Professor","t":0.52,"y":2.0},{"s":"Professor","t":0.525,"y":2.1},{"s":"Professor","t":0.53,"y":2.05},{"s":"Professor","t":0.535,"y":2.2},{"s":"Professor","t":0.54,"y":2.4},{"s":"Professor","t":0.545,"y":2.2},{"s":"Professor","t":0.55,"y":2.0},{"s":"Professor","t":0.555,"y":2.1},{"s":"Professor","t":0.56,"y":1.95},{"s":"Professor","t":0.566,"y":2.13},{"s":"Professor","t":0.571,"y":1.9},{"s":"Professor","t":0.576,"y":1.8},{"s":"Professor","t":0.5833,"y":1.78,"e":1},{"s":"Professor","t":0.59,"y":1.8},{"s":"Professor","t":0.595,"y":1.75},{"s":"Professor","t":0.6,"y":1.78},{"s":"Professor","t":0.606,"y":1.74},{"s":"Professor","t":0.612,"y":1.72},{"s":"Professor","t":0.618,"y":1.76},{"s":"Professor","t":0.624,"y":1.72},{"s":"Professor","t":0.63,"y":1.75},{"s":"Professor","t":0.636,"y":1.85},{"s":"Professor","t":0.641,"y":2.1},{"s":"Professor","t":0.646,"y":2.3},{"s":"Professor","t":0.651,"y":2.4},{"s":"Professor","t":0.656,"y":2.3},{"s":"Professor","t":0.661,"y":2.45},{"s":"Professor","t":0.6667,"y":2.29,"e":1},{"s":"Professor","t":0.672,"y":2.5},{"s":"Professor","t":0.677,"y":2.4},{"s":"Professor","t":0.682,"y":3.0},{"s":"Professor","t":0.685,"y":2.5},{"s":"Professor","t":0.69,"y":2.45},{"s":"Professor","t":0.695,"y":2.35},{"s":"Professor","t":0.7,"y":2.4},{"s":"Professor","t":0.705,"y":2.25},{"s":"Professor","t":0.71,"y":2.2},{"s":"Professor","t":0.716,"y":2.13},{"s":"Professor","t":0.721,"y":2.05},{"s":"Professor","t":0.726,"y":2.0},{"s":"Professor","t":0.731,"y":1.95},{"s":"Professor","t":0.736,"y":1.88},{"s":"Professor","t":0.742,"y":1.85},{"s":"Professor","t":0.75,"y":1.8,"e":1},{"s":"Professor","t":0.756,"y":1.72},{"s":"Professor","t":0.762,"y":1.68},{"s":"Professor","t":0.768,"y":1.65},{"s":"Professor","t":0.775,"y":1.6},{"s":"Professor","t":0.783,"y":1.55},{"s":"Professor","t":0.79,"y":1.62},{"s":"Professor","t":0.795,"y":1.55},{"s":"Professor","t":0.799,"y":1.94},{"s":"Professor","t":0.803,"y":1.65},{"s":"Professor","t":0.809,"y":1.68},{"s":"Professor","t":0.815,"y":1.6},{"s":"Professor","t":0.822,"y":1.62},{"s":"Professor","t":0.828,"y":1.58},{"s":"Professor","t":0.8333,"y":1.6,"e":1},{"s":"Professor","t":0.84,"y":1.52},{"s":"Professor","t":0.848,"y":1.49},{"s":"Professor","t":0.855,"y":1.55},{"s":"Professor","t":0.862,"y":1.5},{"s":"Professor","t":0.87,"y":1.62},{"s":"Professor","t":0.878,"y":1.52},{"s":"Professor","t":0.886,"y":1.49},{"s":"Professor","t":0.894,"y":1.45},{"s":"Professor","t":0.902,"y":1.5},{"s":"Professor","t":0.91,"y":1.42},{"s":"Professor","t":0.9167,"y":1.5,"e":1},{"s":"Professor","t":0.925,"y":1.38},{"s":"Professor","t":0.932,"y":1.32},{"s":"Professor","t":0.94,"y":1.29},{"s":"Professor","t":0.948,"y":1.25},{"s":"Professor","t":0.956,"y":1.2},{"s":"Professor","t":0.964,"y":1.18},{"s":"Professor","t":0.972,"y":1.16},{"s":"Professor","t":0.98,"y":1.12},{"s":"Professor","t":0.99,"y":1.1},{"s":"Professor","t":1,"y":1.09,"e":1},{"s":"Professor","t":1.01,"y":1.1},{"s":"Professor","t":1.02,"y":1.08},{"s":"Professor","t":1.03,"y":1.12},{"s":"Professor","t":1.04,"y":1.07},{"s":"Professor","t":1.05,"y":1.1},{"s":"Professor","t":1.06,"y":1.12},{"s":"Professor","t":1.07,"y":1.08},{"s":"Professor","t":1.0833,"y":1.16,"e":1},{"s":"Professor","t":1.09,"y":1.1},{"s":"Professor","t":1.1,"y":1.12},{"s":"Professor","t":1.11,"y":1.08},{"s":"Professor","t":1.12,"y":1.25},{"s":"Professor","t":1.125,"y":1.1},{"s":"Professor","t":1.135,"y":1.1},{"s":"Professor","t":1.145,"y":1.08},{"s":"Professor","t":1.155,"y":1.1},{"s":"Professor","t":1.1667,"y":1.05,"e":1},{"s":"Professor","t":1.175,"y":1.12},{"s":"Professor","t":1.185,"y":1.1},{"s":"Professor","t":1.195,"y":1.14},{"s":"Professor","t":1.205,"y":1.1},{"s":"Professor","t":1.215,"y":1.15},{"s":"Professor","t":1.22,"y":1.49},{"s":"Professor","t":1.225,"y":1.12},{"s":"Professor","t":1.235,"y":1.1},{"s":"Professor","t":1.24,"y":1.14},{"s":"Professor","t":1.25,"y":1.1,"e":1},{"s":"Professor","t":1.26,"y":1.06},{"s":"Professor","t":1.27,"y":1.02},{"s":"Professor","t":1.278,"y":1.0},{"s":"Professor","t":1.288,"y":0.96},{"s":"Professor","t":1.3,"y":0.92},{"s":"Professor","t":1.31,"y":0.98},{"s":"Professor","t":1.32,"y":1.02},{"s":"Professor","t":1.3333,"y":1.07,"e":1},{"s":"Professor","t":1.345,"y":1.03},{"s":"Professor","t":1.355,"y":1.0},{"s":"Professor","t":1.365,"y":1.02},{"s":"Professor","t":1.375,"y":0.98},{"s":"Professor","t":1.388,"y":0.96},{"s":"Professor","t":1.398,"y":1.06},{"s":"Professor","t":1.408,"y":1.15},{"s":"Professor","t":1.4167,"y":1.23,"e":1},{"s":"Professor","t":1.425,"y":1.3},{"s":"Professor","t":1.432,"y":1.39},{"s":"Professor","t":1.44,"y":1.49},{"s":"Professor","t":1.445,"y":1.35},{"s":"Professor","t":1.45,"y":1.4},{"s":"Professor","t":1.457,"y":1.29},{"s":"Professor","t":1.465,"y":1.25},{"s":"Professor","t":1.472,"y":1.3},{"s":"Professor","t":1.48,"y":1.19},{"s":"Professor","t":1.49,"y":1.15},{"s":"Professor","t":1.5,"y":1.1,"e":1},{"s":"Professor","t":1.51,"y":1.05},{"s":"Professor","t":1.518,"y":1.08},{"s":"Professor","t":1.524,"y":1.0},{"s":"Professor","t":1.535,"y":0.98},{"s":"Professor","t":1.545,"y":0.95},{"s":"Professor","t":1.556,"y":0.94},{"s":"Professor","t":1.565,"y":0.97},{"s":"Professor","t":1.5833,"y":0.9,"e":1},{"s":"Professor","t":1.595,"y":0.88},{"s":"Professor","t":1.605,"y":0.92},{"s":"Professor","t":1.616,"y":0.86},{"s":"Professor","t":1.63,"y":0.9},{"s":"Professor","t":1.64,"y":0.95},{"s":"Professor","t":1.649,"y":1.0},{"s":"Professor","t":1.6667,"y":0.9,"e":1},{"s":"Professor","t":1.68,"y":0.95},{"s":"Professor","t":1.69,"y":0.92},{"s":"Professor","t":1.7,"y":0.96},{"s":"Professor","t":1.71,"y":0.9},{"s":"Professor","t":1.72,"y":0.93},{"s":"Professor","t":1.735,"y":0.88},{"s":"Professor","t":1.75,"y":0.9,"e":1},{"s":"Professor","t":1.765,"y":0.92},{"s":"Professor","t":1.78,"y":0.88},{"s":"Professor","t":1.79,"y":0.94},{"s":"Professor","t":1.8,"y":0.92},{"s":"Professor","t":1.815,"y":0.95},{"s":"Professor","t":1.8333,"y":0.92,"e":1},{"s":"Professor","t":1.845,"y":0.88},{"s":"Professor","t":1.86,"y":0.84},{"s":"Professor","t":1.87,"y":0.88},{"s":"Professor","t":1.88,"y":0.9},{"s":"Professor","t":1.895,"y":0.95},{"s":"Professor","t":1.905,"y":0.9},{"s":"Professor","t":1.9167,"y":0.9,"e":1},{"s":"Professor","t":1.93,"y":0.93},{"s":"Professor","t":1.945,"y":0.9},{"s":"Professor","t":1.96,"y":0.93},{"s":"Professor","t":1.975,"y":0.9},{"s":"Professor","t":1.99,"y":0.92},{"s":"Professor","t":2,"y":0.86,"e":1},{"s":"Professor","t":2.01,"y":0.82},{"s":"Professor","t":2.02,"y":0.88},{"s":"Professor","t":2.035,"y":0.8},{"s":"Professor","t":2.045,"y":0.85},{"s":"Professor","t":2.055,"y":0.78},{"s":"Professor","t":2.065,"y":0.84},{"s":"Professor","t":2.076,"y":0.8}
]},
"layer":[
{"mark":{"type":"line","strokeWidth":1.9,"clip":true},
 "encoding":{
  "x":{"field":"t","type":"quantitative","scale":{"domain":[0,2.227],"nice":false,"zero":false},
       "axis":{"orient":"bottom","values":[0,0.5,1,1.5,2],"format":"~r","labelFontSize":18,"tickSize":-7,"labelPadding":16,"labelFlush":false,"title":"Elapsed time (hour)","titleFontSize":20,"titlePadding":6}},
  "y":{"field":"y","type":"quantitative","scale":{"domain":[0,11.9],"nice":false,"zero":false},
       "axis":{"orient":"left","values":[0,2,4,6,8,10],"format":"d","labelFontSize":18,"tickSize":-7,"labelPadding":13,"labelFlush":false,"title":"Conductance (μS)","titleFontSize":20,"titlePadding":8}},
  "color":{"field":"s","type":"nominal",
   "scale":{"domain":["Student #1","Student #2","Student #3","Professor"," ","Exam"],"range":["#ff00ff","#0000ff","#00ff00","#ff0000","#ffffff","#000000"]},
   "legend":{"orient":"none","legendX":1027,"legendY":8,"title":null,"symbolType":"stroke","symbolSize":484,"symbolStrokeWidth":2,"labelFont":"Liberation Sans","labelFontSize":16.8,"labelColor":"#000000","labelOffset":3,"padding":4,"rowPadding":0.4,"strokeColor":"#333333","fillColor":"#ffffff",
    "encoding":{"symbols":{"shape":{"condition":{"test":"datum.value === 'Exam'","value":"M-1,0H1M-0.45,0.38L0,-0.42L0.45,0.38Z"},"value":"stroke"},"fill":{"condition":{"test":"datum.value === 'Exam'","value":"#000000"},"value":"transparent"}}}}}
 }},
{"transform":[{"filter":"datum.e == 1"}],
 "mark":{"type":"point","shape":"triangle-up","filled":true,"color":"#000000","size":90,"opacity":1},
 "encoding":{
  "x":{"field":"t","type":"quantitative","axis":{"orient":"top","values":[0,0.5,1,1.5,2],"labels":false,"domain":false,"tickSize":-7,"title":null}},
  "y":{"field":"y","type":"quantitative","axis":{"orient":"right","values":[0,2,4,6,8,10],"labels":false,"domain":false,"tickSize":-7,"title":null}}
 }}
],
"resolve":{"axis":{"x":"independent","y":"independent"}}
}
